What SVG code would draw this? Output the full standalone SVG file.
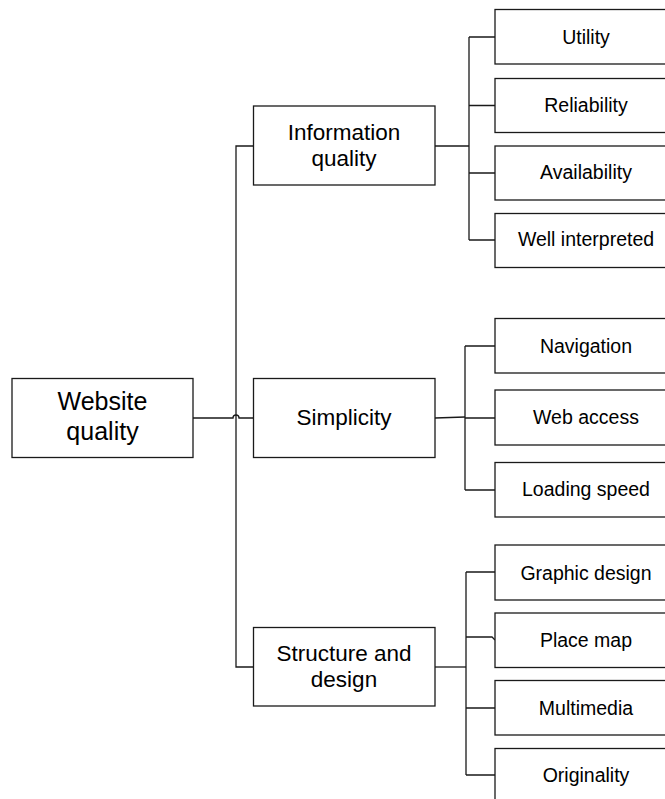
<svg xmlns="http://www.w3.org/2000/svg" width="665" height="799" viewBox="0 0 665 799">
<style>
rect{fill:#fff;stroke:#1a1a1a;stroke-width:1.3}
.c path{fill:none;stroke:#1a1a1a;stroke-width:1.3}
text{font-family:"Liberation Sans",Arial,sans-serif;fill:#000;text-anchor:middle}
.r{font-size:25px}
.m{font-size:22.5px}
.l{font-size:19.5px}
</style>
<rect x="0" y="0" width="665" height="799" style="fill:#fff;stroke:none"/>
<g class="c" id="connectors">
<path d="M193,418 H233 A3,3 0 0 1 239,418 H253"/>
<path d="M253,146 H236 V667 H253"/>
<path d="M435,146 H469"/>
<path d="M469,37 V240 M469,37 H495 M469,105.5 H495 M469,173 H495 M469,240 H495"/>
<path d="M435,418 L465,417"/>
<path d="M465,346 V490 M465,346 H495 M465,418 H495 M465,490 H495"/>
<path d="M435,667 H466"/>
<path d="M466,572 V775 M466,572 H495 M466,637 H492 L495,640 M466,708 H495 M466,775 H495"/>
</g>
<g id="website-quality"><rect x="12" y="378.5" width="181" height="79"/><text class="r" x="102.5" y="410">Website</text><text class="r" x="102.5" y="440">quality</text></g>
<g id="information-quality"><rect x="253.5" y="106" width="181.5" height="79"/><text class="m" x="344" y="139.5">Information</text><text class="m" x="344" y="165.5">quality</text></g>
<g id="simplicity"><rect x="253.5" y="378.5" width="181.5" height="79"/><text class="m" x="344" y="425">Simplicity</text></g>
<g id="structure-and-design"><rect x="253.5" y="627.5" width="181.5" height="78.5"/><text class="m" x="344" y="660.5">Structure and</text><text class="m" x="344" y="686.5">design</text></g>
<g id="utility"><rect x="495" y="9.5" width="182" height="54.5"/><text class="l" x="586" y="43.5">Utility</text></g>
<g id="reliability"><rect x="495" y="78.5" width="182" height="54"/><text class="l" x="586" y="111.5">Reliability</text></g>
<g id="availability"><rect x="495" y="146" width="182" height="54"/><text class="l" x="586" y="179">Availability</text></g>
<g id="well-interpreted"><rect x="495" y="213.5" width="182" height="54"/><text class="l" x="586" y="246">Well interpreted</text></g>
<g id="navigation"><rect x="495" y="318.5" width="182" height="54.5"/><text class="l" x="586" y="352.5">Navigation</text></g>
<g id="web-access"><rect x="495" y="390" width="182" height="55"/><text class="l" x="586" y="424">Web access</text></g>
<g id="loading-speed"><rect x="495" y="462.5" width="182" height="54.5"/><text class="l" x="586" y="496">Loading speed</text></g>
<g id="graphic-design"><rect x="495" y="545" width="182" height="55"/><text class="l" x="586" y="580">Graphic design</text></g>
<g id="place-map"><rect x="495" y="613" width="182" height="54.5"/><text class="l" x="586" y="647">Place map</text></g>
<g id="multimedia"><rect x="495" y="680.5" width="182" height="54.5"/><text class="l" x="586" y="714.5">Multimedia</text></g>
<g id="originality"><rect x="495" y="748.5" width="182" height="60"/><text class="l" x="586" y="782">Originality</text></g>
</svg>
